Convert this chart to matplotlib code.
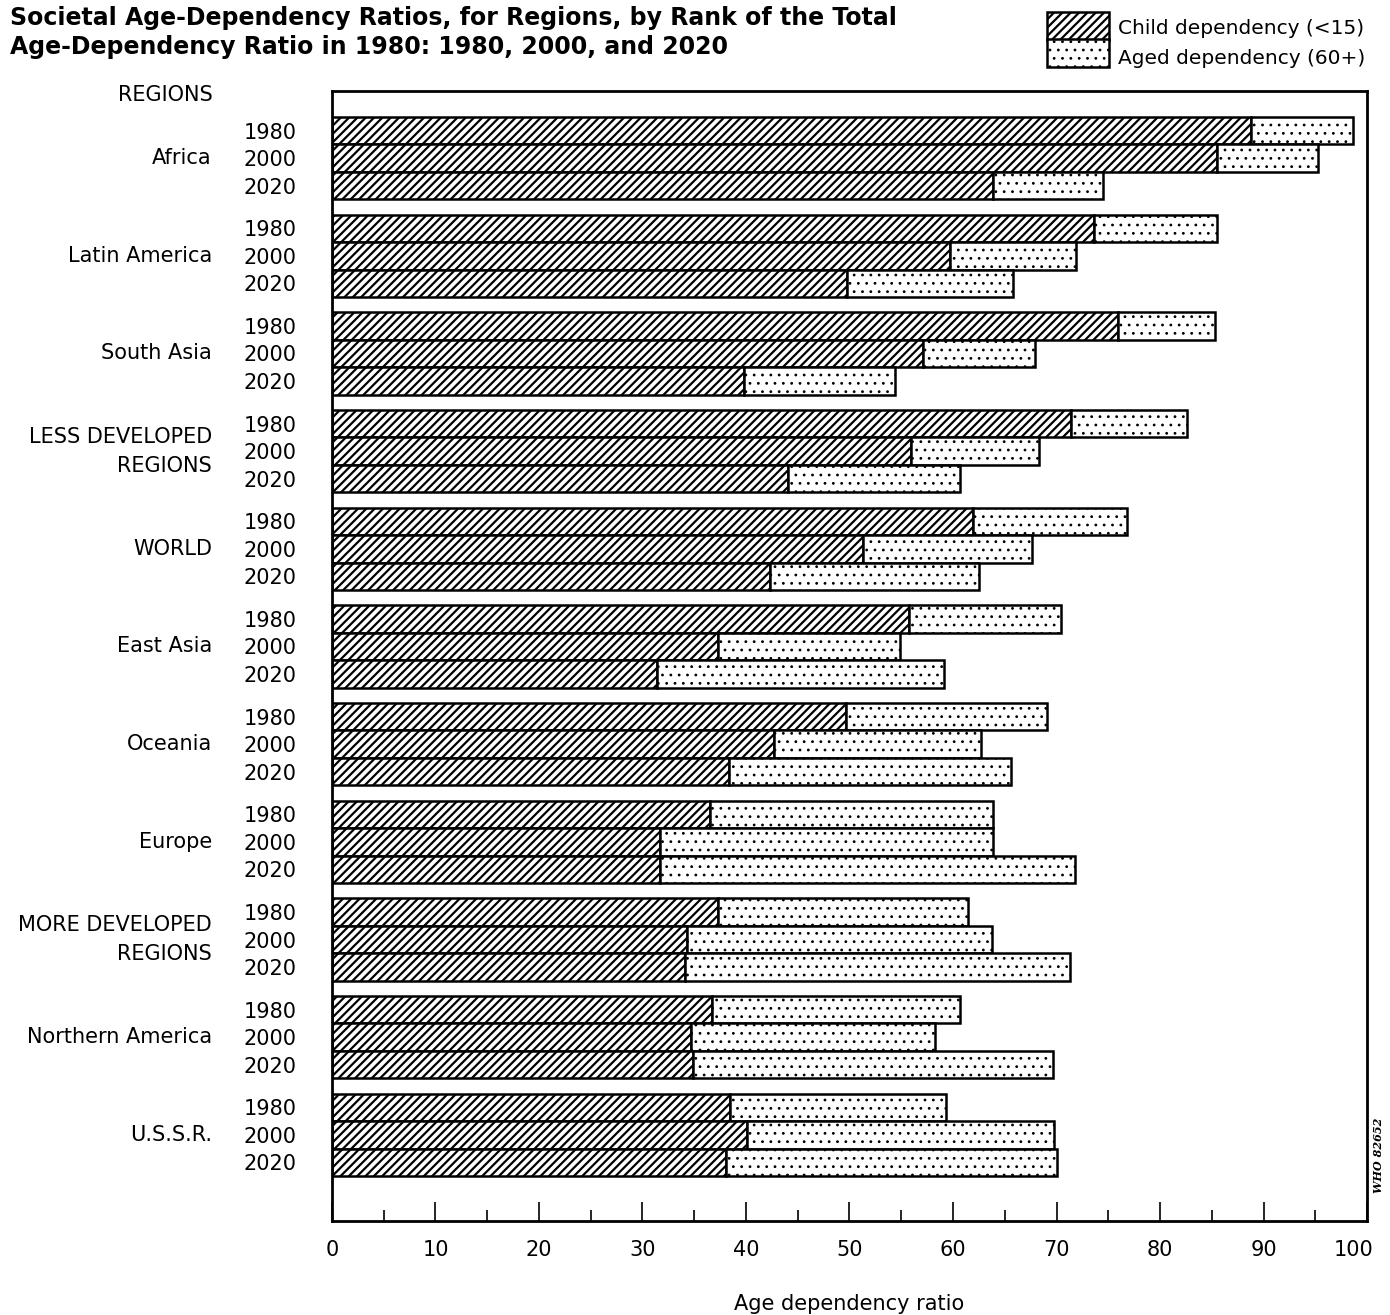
import matplotlib
matplotlib.use("Agg")
import matplotlib.pyplot as plt
from matplotlib.patches import Rectangle
from matplotlib.transforms import ScaledTranslation
import numpy as np

# values (region order = rank of total ratio in 1980)
regions = ["Africa", "Latin America", "South Asia", "LESS DEVELOPED\nREGIONS", "WORLD",
           "East Asia", "Oceania", "Europe", "MORE DEVELOPED\nREGIONS",
           "Northern America", "U.S.S.R."]
years = ["1980", "2000", "2020"]

child_1980 = [88.8, 73.6, 75.9, 71.4, 61.9, 55.7, 49.7, 36.5, 37.3, 36.7, 38.5]
child_2000 = [85.5, 59.7, 57.1, 55.9, 51.3, 37.3, 42.7, 31.7, 34.3, 34.7, 40.1]
child_2020 = [63.9, 49.8, 39.8, 44.1, 42.3, 31.4, 38.4, 31.7, 34.1, 34.9, 38.1]

aged_1980 = [9.8, 11.9, 9.4, 11.2, 14.9, 14.7, 19.4, 27.4, 24.1, 24.0, 20.8]
aged_2000 = [9.8, 12.2, 10.8, 12.4, 16.3, 17.6, 20.0, 32.2, 29.5, 23.6, 29.7]
aged_2020 = [10.6, 16.0, 14.6, 16.6, 20.2, 27.7, 27.2, 40.1, 37.2, 34.8, 31.9]

child = [child_1980, child_2000, child_2020]
aged = [aged_1980, aged_2000, aged_2020]

plt.rcParams["font.family"] = ["DejaVu Sans"]

fig = plt.figure(figsize=(13.9, 13.15), dpi=100)
ax = fig.add_axes([0.2388, 0.0715, 0.9835 - 0.2388, 0.9308 - 0.0715])

group_step = 3.55
base = np.arange(len(regions)) * group_step
edge = dict(edgecolor="black", linewidth=1.8, color="white")

positions = []
for j in range(len(years)):
    pos = base + j
    positions.append(pos)
    with plt.rc_context({"hatch.linewidth": 1.6}):
        ax.barh(pos, child[j], height=1.0, hatch="////", **edge)
    with plt.rc_context({"hatch.linewidth": 0.8}):
        ax.barh(pos, aged[j], left=child[j], height=1.0, hatch="..", **edge)

all_pos = np.sort(np.concatenate(positions))
ax.set_yticks(all_pos)
ax.set_yticklabels(years * len(regions), fontsize=15)
ax.set_ylim(all_pos[-1] + 2.13, -1.44)
ax.tick_params(axis="y", left=False, pad=22)

for name, y in zip(regions, base + 1):
    ax.text(-0.116, y, name, transform=ax.get_yaxis_transform(), ha="right",
            va="center", fontsize=15, linespacing=1.55)

ax.set_xlim(0, 100)
ax.set_xticks(np.arange(0, 101, 10))
ax.set_xticks(np.arange(5, 100, 10), minor=True)
ax.tick_params(axis="x", which="major", direction="in", length=14, width=1.2,
               labelsize=15, pad=14)
ax.tick_params(axis="x", which="minor", direction="in", length=8, width=1.2)
ax.set_xlabel("Age dependency ratio", fontsize=15, labelpad=24)
for s in ax.spines.values():
    s.set_linewidth(2)

# the "100" label sits a little left of its tick in the original
last = ax.get_xticklabels()[-1]
last.set_transform(last.get_transform() + ScaledTranslation(-0.14, 0, fig.dpi_scale_trans))

# title and header
fig.text(10 / 1390, 1 - 6 / 1315,
         "Societal Age-Dependency Ratios, for Regions, by Rank of the Total\n"
         "Age-Dependency Ratio in 1980: 1980, 2000, and 2020",
         ha="left", va="top", fontsize=17, fontweight="bold", linespacing=1.25)
fig.text(213 / 1390, 1 - 95 / 1315, "REGIONS", ha="right", va="center", fontsize=15)

# legend boxes drawn in figure pixels
W, H = 1390, 1315
for top, ty, hatch, hlw, label in [(12, 28, "////", 1.6, "Child dependency (<15)"),
                                   (39, 58, "..", 0.8, "Aged dependency (60+)")]:
    with plt.rc_context({"hatch.linewidth": hlw}):
        rect = Rectangle((1047 / W, 1 - (top + 28) / H), 62 / W, 28 / H,
                         transform=fig.transFigure, facecolor="white",
                         edgecolor="black", hatch=hatch, linewidth=1.8)
    fig.patches.append(rect)
    fig.text(1118 / W, 1 - ty / H, label, ha="left", va="center", fontsize=14.5)

fig.text(1378 / W, 1 - 1155 / H, "WHO 82652", rotation=90, ha="center", va="center",
         fontsize=8, family="DejaVu Serif", style="italic", fontweight="bold")

fig.savefig("out.png", dpi=100)
